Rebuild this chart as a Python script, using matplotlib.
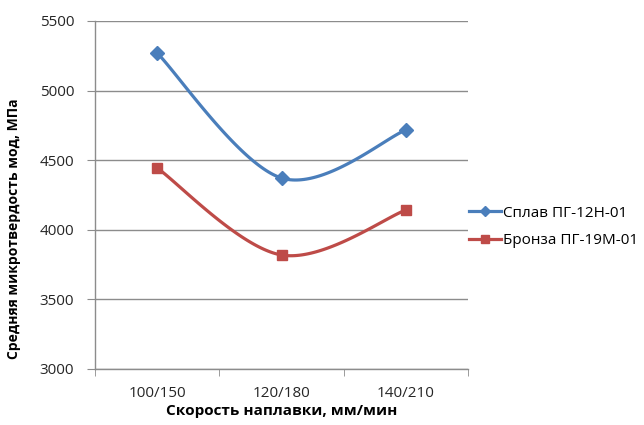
import numpy as np
import matplotlib
matplotlib.use("Agg")
import matplotlib.pyplot as plt

plt.rcParams['font.family'] = ['Open Sans', 'DejaVu Sans']

categories = ["100/150", "120/180", "140/210"]
alloy_values = [5270, 4372, 4717]
bronze_values = [4444, 3819, 4142]
series_names = ["Сплав ПГ-12Н-01", "Бронза ПГ-19М-01"]
y_ticks = [3000, 3500, 4000, 4500, 5000, 5500]


def smooth_curve(xs, ys, n=60):
    """Cardinal (Catmull-Rom style) Bezier smoothing through the points."""
    pts = np.column_stack([xs, ys]).astype(float)
    out = []
    for i in range(len(pts) - 1):
        p0 = pts[max(i - 1, 0)]
        p1 = pts[i]
        p2 = pts[i + 1]
        p3 = pts[min(i + 2, len(pts) - 1)]
        c1 = p1 + (p2 - p0) / 6.0
        c2 = p2 - (p3 - p1) / 6.0
        t = np.linspace(0, 1, n)[:, None]
        seg = ((1 - t) ** 3) * p1 + 3 * ((1 - t) ** 2) * t * c1 \
            + 3 * (1 - t) * t ** 2 * c2 + t ** 3 * p2
        out.append(seg if i == 0 else seg[1:])
    seg = np.vstack(out)
    return seg[:, 0], seg[:, 1]


fig = plt.figure(figsize=(6.44, 4.25), dpi=100)
ax = fig.add_axes([95 / 644, 1 - 369 / 425, (468 - 95) / 644, (369 - 21) / 425])

x = np.arange(len(categories))
grid_c = "#8c8c8c"
text_c = "#262626"

styles = [
    dict(color="#4A7EBB", marker="D", ms=7),
    dict(color="#BE4B48", marker="s", ms=7.5),
]
handles = []
for vals, name, st in zip([alloy_values, bronze_values], series_names, styles):
    sx, sy = smooth_curve(x, vals)
    ax.plot(sx, sy, color=st["color"], lw=2.3, solid_capstyle="round", zorder=3)
    ax.plot(x, vals, linestyle="none", marker=st["marker"], ms=st["ms"],
            color=st["color"], zorder=4)
    h, = ax.plot([], [], color=st["color"], lw=2.3, marker=st["marker"],
                 ms=st["ms"] * 0.75, label=name)
    handles.append(h)

ax.set_xlim(-0.5, len(categories) - 0.5)
ax.set_ylim(3000, 5500)
ax.set_yticks(y_ticks)
ax.set_yticklabels([str(v) for v in y_ticks], fontsize=11, color=text_c)
ax.set_xticks(x)
ax.set_xticklabels(categories, fontsize=11, color=text_c)
ax.tick_params(axis="x", length=0, pad=12)
ax.tick_params(axis="y", length=6, color=grid_c, pad=9)
# category boundary ticks on the x axis
ax.set_xticks(np.arange(-0.5, len(categories) + 0.5, 1), minor=True)
ax.tick_params(axis="x", which="minor", length=5, color=grid_c)

ax.grid(axis="y", color=grid_c, lw=1)
ax.set_axisbelow(True)
for s in ["top", "right"]:
    ax.spines[s].set_visible(False)
for s in ["left", "bottom"]:
    ax.spines[s].set_color(grid_c)
    ax.spines[s].set_linewidth(1)

ax.set_xlabel("Скорость наплавки, мм/мин", fontsize=11, fontweight="bold",
              color="black")
ax.xaxis.set_label_coords(0.5, -(411 - 369) / 348, transform=ax.transAxes)
ax.xaxis.label.set_va("center")
ax.set_ylabel("Средняя микротвердость мод, МПа", fontsize=10,
              fontweight="bold", color="black")
ax.yaxis.set_label_coords((14 - 95) / 373, (369 - 229) / 348,
                          transform=ax.transAxes)
ax.yaxis.label.set_va("center")

fig.legend(handles=handles, loc="center left",
           bbox_to_anchor=(463 / 644, 1 - 227 / 425), frameon=False,
           fontsize=11, handlelength=2.1, handletextpad=0.1, labelspacing=0.85,
           borderaxespad=0)

fig.savefig("out.png", dpi=100)
